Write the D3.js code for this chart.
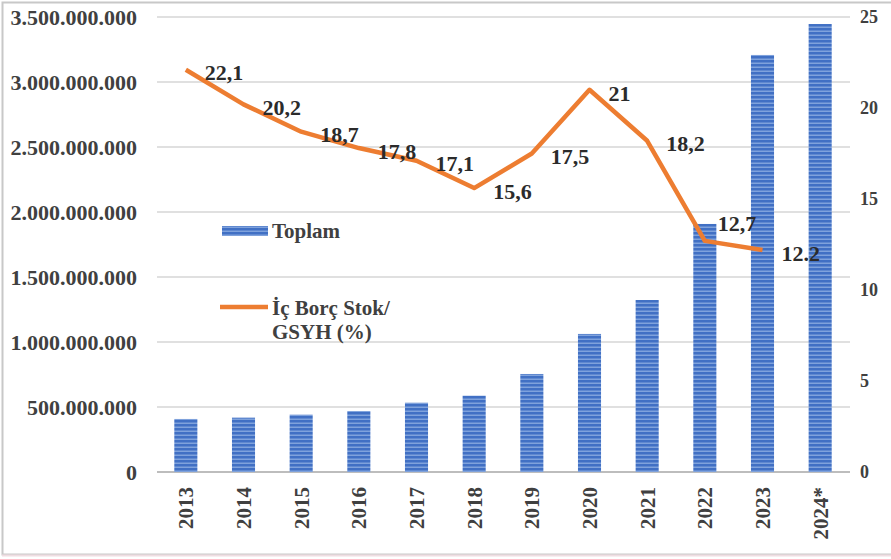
<!DOCTYPE html>
<html><head><meta charset="utf-8">
<script src="https://cdn.jsdelivr.net/npm/d3@7"></script>
<style>
html,body{margin:0;padding:0;background:#fff;}
svg{display:block;}
text{font-family:"Liberation Serif","Times New Roman",serif;font-weight:bold;}
</style></head>
<body>
<svg id="c" width="891" height="559"></svg>
<script>
const years = ["2013","2014","2015","2016","2017","2018","2019","2020","2021","2022","2023","2024*"];
const toplam = [408e6, 418e6, 441e6, 469e6, 533e6, 587e6, 754e6, 1062e6, 1323e6, 1908e6, 3208e6, 3446e6];
const borcOrani = [22.1, 20.2, 18.7, 17.8, 17.1, 15.6, 17.5, 21, 18.2, 12.7, 12.2];
const borcEtiket = ["22,1","20,2","18,7","17,8","17,1","15,6","17,5","21","18,2","12,7","12.2"];
const leftTicks = [0, 500e6, 1000e6, 1500e6, 2000e6, 2500e6, 3000e6, 3500e6];
const rightTicks = [0, 5, 10, 15, 20, 25];
const legendLabels = ["Toplam", ["İç Borç Stok/", "GSYH (%)"]];
// label nudges (style), per point
const labelDy = [0,0,0,0,0,0,0,0,0,-21,0];
const labelDx = [0,0,0,0,0,0,0,0,0,-6,0];

const svg = d3.select("#c");
const X0 = 157, X1 = 849, Ytop = 17, Ybot = 472;

// frame
svg.append("rect").attr("x",2.5).attr("y",2.5).attr("width",892).attr("height",552)
  .attr("fill","none").attr("stroke","#c8c8c8").attr("stroke-width",2);
svg.append("line").attr("x1",2).attr("x2",891).attr("y1",555.5).attr("y2",555.5)
  .attr("stroke","#efdde2").attr("stroke-width",2);

const x = d3.scaleBand().domain(years).range([X0, X1]).paddingInner(0.6).paddingOuter(0.3);
const yL = d3.scaleLinear().domain([0, 3500e6]).range([Ybot, Ytop]);
const yR = d3.scaleLinear().domain([0, 25]).range([Ybot, Ytop]);

// pattern for bars
const defs = svg.append("defs");
const pat = defs.append("pattern").attr("id","stripes").attr("patternUnits","userSpaceOnUse")
  .attr("width",8).attr("height",4);
pat.append("rect").attr("width",8).attr("height",4).attr("fill","#4170c4");
pat.append("rect").attr("y",2.6).attr("width",8).attr("height",1.2).attr("fill","#8eaee2");

// gridlines
const fmt = d3.formatLocale({decimal:",", thousands:".", grouping:[3], currency:["",""]}).format(",");
svg.append("g").selectAll("line").data(leftTicks).join("line")
  .attr("x1",X0).attr("x2",X1+1).attr("y1",d=>yL(d)).attr("y2",d=>yL(d))
  .attr("stroke",d=>d===0?"#bdbdbd":"#d6d6d6").attr("stroke-width",d=>d===0?2:1.6);

// left axis labels
svg.append("g").selectAll("text").data(leftTicks).join("text")
  .attr("x",137).attr("y",d=>yL(d)).attr("dy","0.35em").attr("text-anchor","end")
  .attr("font-size",22).attr("fill","#404040").text(d=>fmt(d));

// right axis labels
svg.append("g").selectAll("text").data(rightTicks).join("text")
  .attr("x",860).attr("y",d=>yR(d)).attr("dy","0.35em").attr("text-anchor","start")
  .attr("font-size",18).attr("fill","#404040").text(d=>d);

// x labels
svg.append("g").selectAll("text").data(years).join("text")
  .attr("transform",d=>`translate(${x(d)+x.bandwidth()/2},487) rotate(-90)`)
  .attr("dy","0.36em").attr("text-anchor","end")
  .attr("font-size",21).attr("fill","#404040").text(d=>d);

// bars
svg.append("g").selectAll("rect").data(years).join("rect")
  .attr("x",d=>x(d)).attr("width",x.bandwidth())
  .attr("y",(d,i)=>yL(toplam[i])).attr("height",(d,i)=>Ybot-yL(toplam[i]))
  .attr("fill","url(#stripes)");

// line
const pts = borcOrani.map((v,i)=>[x(years[i])+x.bandwidth()/2, yR(v)]);
svg.append("path").datum(pts).attr("d",d3.line())
  .attr("fill","none").attr("stroke","#ED7D31").attr("stroke-width",4.5)
  .attr("stroke-linejoin","round").attr("stroke-linecap","butt");

// data labels
svg.append("g").selectAll("text").data(borcOrani).join("text")
  .attr("x",(d,i)=>pts[i][0]+19+labelDx[i]).attr("y",(d,i)=>pts[i][1]+3+labelDy[i])
  .attr("dy","0.35em").attr("font-size",22).attr("fill","#2b2b2b")
  .text((d,i)=>borcEtiket[i]);

// legend
const lg = svg.append("g");
lg.append("rect").attr("x",222).attr("y",226).attr("width",46).attr("height",10).attr("fill","url(#stripes)");
lg.append("text").attr("x",272).attr("y",238).attr("font-size",21).attr("fill","#404040").text(legendLabels[0]);
lg.append("line").attr("x1",220).attr("x2",268).attr("y1",307).attr("y2",307)
  .attr("stroke","#ED7D31").attr("stroke-width",4.5);
lg.append("text").attr("x",272).attr("y",315).attr("font-size",21).attr("fill","#404040").text(legendLabels[1][0]);
lg.append("text").attr("x",272).attr("y",339).attr("font-size",21).attr("fill","#404040").text(legendLabels[1][1]);
</script>
</body></html>
